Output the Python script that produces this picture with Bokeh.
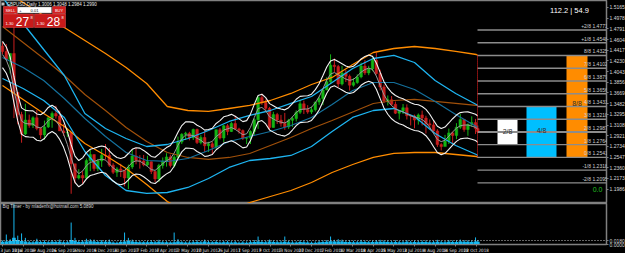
import numpy as np
from bokeh.plotting import figure
from bokeh.models import Range1d, FixedTicker, NumeralTickFormatter, Label
from bokeh.layouts import column
from bokeh.embed import file_html
from bokeh.resources import INLINE

# ---------------- data ----------------
title_text = "GBPUSD,Daily  1.3006 1.3048 1.2984 1.2990"
date_labels = ["3 Jun 2016", "13 Jul 2016", "19 Aug 2016", "26 Sep 2016", "2 Nov 2016",
               "9 Dec 2016", "20 Jan 2017", "27 Feb 2017", "4 Apr 2017", "12 May 2017",
               "20 Jun 2017", "26 Jul 2017", "1 Sep 2017", "9 Oct 2017", "13 Nov 2017",
               "20 Dec 2017", "1 Feb 2018", "12 Mar 2018", "18 Apr 2018", "25 May 2018",
               "2 Jul 2018", "8 Aug 2018", "14 Sep 2018", "22 Oct 2018"]

first_open = 1.4490
week_close = [1.4395, 1.4255, 1.4360, 1.3680, 1.3290, 1.2950, 1.3195, 1.3100, 1.3235, 1.3045,
              1.2935, 1.3075, 1.3235, 1.3310, 1.3265, 1.3005, 1.2970, 1.2975, 1.2430, 1.2180,
              1.2225, 1.2180, 1.2485, 1.2590, 1.2345, 1.2480, 1.2580, 1.2575, 1.2405, 1.2280,
              1.2340, 1.2315, 1.2180, 1.2375, 1.2565, 1.2485, 1.2480, 1.2410, 1.2465, 1.2295,
              1.2165, 1.2400, 1.2475, 1.2550, 1.2400, 1.2545, 1.2810, 1.2945, 1.2965, 1.2885,
              1.3030, 1.2800, 1.2890, 1.2745, 1.2780, 1.2720, 1.3025, 1.2880, 1.3095, 1.2995,
              1.3135, 1.3040, 1.3010, 1.2875, 1.2880, 1.2995, 1.3200, 1.3590, 1.3500, 1.3400,
              1.3065, 1.3290, 1.3195, 1.3135, 1.3075, 1.3190, 1.3220, 1.3330, 1.3480, 1.3380,
              1.3335, 1.3375, 1.3510, 1.3570, 1.3720, 1.3865, 1.4155, 1.4130, 1.3825, 1.4020,
              1.3960, 1.3805, 1.3850, 1.3950, 1.4140, 1.4020, 1.4090, 1.4240, 1.4010, 1.3775,
              1.3530, 1.3550, 1.3470, 1.3315, 1.3350, 1.3410, 1.3270, 1.3265, 1.3195, 1.3285,
              1.3230, 1.3130, 1.3110, 1.3005, 1.2765, 1.2730, 1.2830, 1.2970, 1.2925, 1.3070,
              1.3205, 1.3030, 1.3120, 1.3150, 1.3045, 1.2990]
week_high = [1.4555, 1.4525, 1.4365, 1.5018, 1.3535, 1.3340, 1.3480, 1.3290, 1.3260, 1.3370,
             1.3070, 1.3185, 1.3240, 1.3345, 1.3445, 1.3360, 1.3125, 1.3055, 1.2975, 1.2385,
             1.2335, 1.2300, 1.2520, 1.2675, 1.2590, 1.2515, 1.2690, 1.2775, 1.2705, 1.2440,
             1.2370, 1.2430, 1.2300, 1.2415, 1.2675, 1.2705, 1.2580, 1.2585, 1.2570, 1.2470,
             1.2300, 1.2430, 1.2540, 1.2615, 1.2590, 1.2580, 1.2905, 1.2965, 1.2990, 1.2990,
             1.3045, 1.3045, 1.2930, 1.3000, 1.2815, 1.2815, 1.3030, 1.3055, 1.3110, 1.3125,
             1.3160, 1.3270, 1.3060, 1.3030, 1.2900, 1.3015, 1.3225, 1.3615, 1.3655, 1.3555,
             1.3425, 1.3340, 1.3320, 1.3285, 1.3320, 1.3215, 1.3260, 1.3365, 1.3550, 1.3535,
             1.3455, 1.3430, 1.3515, 1.3610, 1.3745, 1.3945, 1.4345, 1.4275, 1.4160, 1.4145,
             1.4070, 1.3990, 1.3930, 1.3995, 1.4200, 1.4245, 1.4145, 1.4285, 1.4377, 1.4075,
             1.3815, 1.3625, 1.3615, 1.3520, 1.3375, 1.3475, 1.3470, 1.3290, 1.3290, 1.3310,
             1.3360, 1.3270, 1.3205, 1.3175, 1.3035, 1.2790, 1.2935, 1.3045, 1.2995, 1.3140,
             1.3300, 1.3215, 1.3135, 1.3260, 1.3215, 1.3100]
week_low = [1.4350, 1.4240, 1.4010, 1.3229, 1.3120, 1.2798, 1.2930, 1.3060, 1.3055, 1.3015,
            1.2865, 1.2850, 1.3055, 1.3060, 1.3220, 1.3005, 1.2915, 1.2900, 1.1905, 1.2085,
            1.2155, 1.2080, 1.2155, 1.2300, 1.2300, 1.2300, 1.2375, 1.2505, 1.2375, 1.2250,
            1.2200, 1.2200, 1.2035, 1.1986, 1.2340, 1.2420, 1.2345, 1.2385, 1.2385, 1.2250,
            1.2110, 1.2110, 1.2345, 1.2380, 1.2365, 1.2365, 1.2515, 1.2775, 1.2845, 1.2840,
            1.2845, 1.2775, 1.2770, 1.2635, 1.2635, 1.2590, 1.2690, 1.2855, 1.2810, 1.2930,
            1.2985, 1.3025, 1.2955, 1.2845, 1.2775, 1.2775, 1.2935, 1.3040, 1.3460, 1.3340,
            1.3030, 1.3065, 1.3125, 1.3080, 1.3025, 1.3040, 1.3075, 1.3170, 1.3300, 1.3300,
            1.3305, 1.3300, 1.3345, 1.3460, 1.3455, 1.3720, 1.3845, 1.4035, 1.3765, 1.3800,
            1.3860, 1.3710, 1.3780, 1.3830, 1.3925, 1.3985, 1.3980, 1.4050, 1.3990, 1.3715,
            1.3490, 1.3450, 1.3450, 1.3300, 1.3205, 1.3300, 1.3205, 1.3100, 1.3050, 1.3115,
            1.3100, 1.2960, 1.3055, 1.2955, 1.2725, 1.2662, 1.2740, 1.2775, 1.2785, 1.2860,
            1.3040, 1.2990, 1.2920, 1.3075, 1.2950, 1.2965]

# channel lines, sampled at each date label and at the last bar
orange_upper = [1.5480, 1.5252, 1.5025, 1.4815, 1.4587, 1.4360, 1.4115, 1.3835, 1.3432, 1.3362,
                1.3345, 1.3397, 1.3450, 1.3537, 1.3660, 1.3817, 1.3940, 1.4167, 1.4377, 1.4447,
                1.4482, 1.4447, 1.4395, 1.4342, 1.4325]
brown_mid = [1.4832, 1.4552, 1.4272, 1.3975, 1.3642, 1.3362, 1.3065, 1.2820, 1.2627, 1.2540,
             1.2505, 1.2540, 1.2610, 1.2750, 1.2890, 1.3047, 1.3187, 1.3336, 1.3485, 1.3537,
             1.3555, 1.3520, 1.3485, 1.3450, 1.3450]
orange_lower = [1.3800, 1.3555, 1.3310, 1.3082, 1.2785, 1.2575, 1.2347, 1.2067, 1.1770, 1.1560,
                1.1507, 1.1612, 1.1752, 1.1857, 1.1962, 1.2102, 1.2277, 1.2417, 1.2540, 1.2610,
                1.2627, 1.2627, 1.2592, 1.2557, 1.2540]
blue_upper = [1.5340, 1.4885, 1.4430, 1.3975, 1.3310, 1.3047, 1.2872, 1.2732, 1.2767, 1.2872,
              1.3012, 1.3170, 1.3275, 1.3362, 1.3485, 1.3607, 1.3852, 1.4097, 1.4272, 1.4325,
              1.4202, 1.3887, 1.3660, 1.3467, 1.3450]
blue_mid = [1.4290, 1.4115, 1.3887, 1.3572, 1.3222, 1.2907, 1.2627, 1.2487, 1.2470, 1.2522,
            1.2662, 1.2820, 1.2907, 1.2995, 1.3100, 1.3240, 1.3467, 1.3712, 1.3852, 1.3852,
            1.3730, 1.3520, 1.3292, 1.3082, 1.3065]
blue_lower = [1.3922, 1.3747, 1.3537, 1.3240, 1.2645, 1.2225, 1.1962, 1.1910, 1.1927, 1.2015,
              1.2172, 1.2365, 1.2487, 1.2522, 1.2575, 1.2732, 1.2995, 1.3240, 1.3362, 1.3397,
              1.3257, 1.2960, 1.2750, 1.2592, 1.2575]
tma_half_width = 0.023

murrey_names = ["+2/8", "+1/8", "8/8", "7/8", "6/8", "5/8", "4/8", "3/8", "2/8", "1/8", "0/8", "-1/8", "-2/8"]
murrey_levels = [1.4771, 1.4548, 1.4325, 1.4102, 1.3879, 1.3656, 1.3433, 1.3210, 1.2987, 1.2764,
                 1.2541, 1.2318, 1.2095]
box_names = ["2/8", "4/8", "8/8"]

price_ticks = [1.5165, 1.4978, 1.4791, 1.4604, 1.4417, 1.4230, 1.4043, 1.3856, 1.3669, 1.3482,
               1.3295, 1.3108, 1.2921, 1.2734, 1.2547, 1.2360, 1.2173, 1.1986]

timer_title = "Big Timer - by mladenfx@hotmail.com 5.0890"
timer_fill = [.012, .013, .016, .030, .020, .016, .014, .010, .010, .013,
              .011, .011, .010, .012, .011, .012, .010, .010, .020, .016,
              .011, .012, .014, .015, .013, .011, .012, .012, .012, .009,
              .008, .011, .014, .016, .013, .011, .010, .010, .010, .011,
              .010, .012, .010, .010, .009, .010, .014, .010, .009, .009,
              .010, .011, .010, .013, .010, .010, .011, .009, .010, .010,
              .009, .010, .008, .009, .008, .010, .011, .014, .011, .010,
              .013, .011, .010, .010, .012, .010, .009, .009, .011, .010,
              .009, .008, .008, .010, .011, .012, .015, .013, .014, .013,
              .011, .011, .010, .010, .012, .011, .010, .011, .012, .012,
              .012, .011, .010, .011, .010, .010, .012, .010, .011, .010,
              .011, .011, .010, .010, .012, .010, .010, .012, .011, .011,
              .013, .012, .012, .011, .013, .012]
timer_peak = [.018, .045, .024, .185, .040, .050, .030, .017, .016, .026,
              .016, .019, .015, .020, .017, .022, .015, .016, .099, .030,
              .017, .019, .026, .024, .022, .017, .020, .019, .022, .014,
              .013, .018, .054, .030, .022, .018, .016, .015, .016, .019,
              .016, .021, .016, .015, .014, .054, .024, .015, .014, .015,
              .018, .020, .016, .022, .016, .015, .019, .014, .016, .017,
              .015, .016, .013, .015, .014, .017, .020, .036, .018, .016,
              .022, .018, .016, .017, .036, .016, .015, .014, .019, .017,
              .015, .013, .014, .017, .018, .020, .036, .021, .024, .022,
              .018, .019, .017, .016, .021, .018, .016, .018, .020, .021,
              .019, .018, .016, .019, .016, .017, .020, .016, .018, .017,
              .018, .019, .016, .016, .021, .017, .016, .020, .018, .019,
              .022, .020, .019, .018, .032, .020]
timer_level = 0.018
timer_ticks = [0.0, 0.018]
stat_text = "112.2 | 54.9"
counter_text = "0.0"
bid_text = ("1.30", "27", "8")
ask_text = ("1.30", "28", "8")
lot_text = "0.01"

# ---------------- geometry ----------------
FW = 606
H1 = 203
PXB = 20.6 / 27.0            # pixels per daily bar
X0 = -2.0 / PXB
X1 = X0 + FW / PXB
Y_TOP = 1.5287
PPP = 0.00175                 # price per pixel
Y_BOT = Y_TOP - PPP * H1
FONT = "Liberation Sans"
NARROW = "Liberation Sans Narrow, DejaVu Sans Condensed, Liberation Sans"


def bx(px):
    return X0 + px / PXB


def py(pyv):
    return Y_TOP - PPP * pyv


n = len(week_close)
cx = [5 * i for i in range(n - 1)] + [623]
opens = [first_open] + week_close[:-1]
band_x = [27 * k for k in range(len(date_labels))] + [623]

p = figure(frame_width=FW, frame_height=H1, x_range=Range1d(X0, X1), y_range=Range1d(Y_BOT, Y_TOP),
           output_backend="svg", toolbar_location=None, x_axis_location=None,
           y_axis_location="right", background_fill_color="black", border_fill_color="black",
           min_border=0)
p.grid.visible = False
p.outline_line_color = "#808080"
p.outline_line_width = 1.5
yax = p.yaxis[0]
yax.ticker = FixedTicker(ticks=price_ticks)
yax.formatter = NumeralTickFormatter(format="0.0000")
yax.major_label_text_font_size = "5px"
yax.major_label_text_font = FONT
yax.major_label_text_color = "#d8d8d8"
yax.axis_line_color = "#808080"
yax.major_tick_line_color = "#808080"
yax.major_tick_out = 2
yax.major_tick_in = 0
yax.minor_tick_out = 0
yax.minor_tick_in = 0
yax.major_label_standoff = 1

# Murrey boxes (behind lines)
white_l, white_r = bx(497), bx(517)
blue_l, blue_r = bx(526), bx(556)
org_l, org_r = bx(566), bx(587)
p.quad(left=[white_l], right=[white_r], top=[murrey_levels[7]], bottom=[murrey_levels[9]],
       fill_color="#ffffff", line_color=None)
p.quad(left=[blue_l], right=[blue_r], top=[murrey_levels[6]], bottom=[murrey_levels[10]],
       fill_color="#00bfff", line_color=None)
p.quad(left=[org_l], right=[org_r], top=[murrey_levels[2]], bottom=[murrey_levels[10]],
       fill_color="#ff8c00", line_color=None)

# candles
green, red = "#14b414", "#c81e1e"
cols = [green if c >= o else red for o, c in zip(opens, week_close)]
p.segment(x0=cx, y0=week_high, x1=cx, y1=week_low, line_color=cols, line_width=1)
p.vbar(x=cx, width=3.4, top=[max(o, c) for o, c in zip(opens, week_close)],
       bottom=[min(o, c) for o, c in zip(opens, week_close)], fill_color=cols, line_color=cols,
       line_width=0.5)

# channels
p.line(band_x, orange_lower, line_color="#ff8c00", line_width=1.3)
p.line(band_x, brown_mid, line_color="#a0500a", line_width=1.2)
p.line(band_x, orange_upper, line_color="#ff8c00", line_width=1.3)
p.line(band_x, blue_lower, line_color="#1eb4f0", line_width=1.3)
p.line(band_x, blue_mid, line_color="#14709c", line_width=1.2)
p.line(band_x, blue_upper, line_color="#1eb4f0", line_width=1.3)

# centred triangular average of closes with envelope
wts = [1, 2, 3, 2, 1]
mid = []
for i in range(n):
    s = 0.0
    ws = 0.0
    for j, wt in zip(range(-2, 3), wts):
        if 0 <= i + j < n:
            s += week_close[i + j] * wt
            ws += wt
    mid.append(s / ws)
mid = np.array(mid)
p.line(cx, mid, line_color="#9a9a9a", line_width=1)
p.line(cx, mid + tma_half_width, line_color="#f2f2f2", line_width=1.1)
p.line(cx, mid - tma_half_width, line_color="#f2f2f2", line_width=1.1)

# Murrey lines
ml = bx(477)
for i, lv in enumerate(murrey_levels):
    p.segment(x0=[ml], y0=[lv], x1=[X1], y1=[lv], line_color="#8c8c8c",
              line_width=2 if murrey_names[i] == "2/8" else 1.4)
    p.add_layout(Label(x=bx(610), y=lv + PPP * 1.0, text=f"{murrey_names[i]}   {lv:.4f}",
                       text_font_size="5px", text_font=FONT, text_color="#d0d0d0",
                       text_align="right", text_baseline="bottom"))
p.segment(x0=[ml], y0=[murrey_levels[2]], x1=[ml], y1=[murrey_levels[10]], line_color="#ff2020",
          line_width=1, line_dash="1 1")

# box labels
p.add_layout(Label(x=(white_l + white_r) / 2, y=py(131), text=box_names[0], text_font_size="7px",
                   text_font=FONT, text_color="#303030", text_align="center", text_baseline="middle"))
p.add_layout(Label(x=(blue_l + blue_r) / 2, y=py(130), text=box_names[1], text_font_size="7px",
                   text_font=FONT, text_color="#303030", text_align="center", text_baseline="middle"))
p.add_layout(Label(x=(org_l + org_r) / 2, y=py(103), text=box_names[2], text_font_size="7px",
                   text_font=FONT, text_color="#303030", text_align="center", text_baseline="middle"))

# texts
p.add_layout(Label(x=bx(569), y=py(9.5), text=stat_text, text_font_size="7.5px", text_font=FONT,
                   text_color="#ffffff", text_align="center", text_baseline="middle"))
p.add_layout(Label(x=bx(597), y=py(189), text=counter_text, text_font_size="7px", text_font=FONT,
                   text_color="#22c022", text_align="center", text_baseline="middle"))
p.quad(left=[bx(1)], right=[bx(4)], top=[py(2)], bottom=[py(5)], fill_color="#c0c0c0", line_color=None)
p.add_layout(Label(x=bx(6), y=py(3.8), text=title_text, text_font_size="4.5px", text_font=FONT,
                   text_color="#e8e8e8", text_align="left", text_baseline="middle"))

# trade panel
p.quad(left=[bx(3), bx(52)], right=[bx(17), bx(65)], top=[py(6), py(6)], bottom=[py(13), py(13)],
       fill_color="#d42020", line_color="#f06060", line_width=0.5)
p.quad(left=[bx(17)], right=[bx(51)], top=[py(6.5)], bottom=[py(12.5)], fill_color="#ffffff",
       line_color="#909090", line_width=0.5)
p.quad(left=[bx(3), bx(34)], right=[bx(33), bx(65)], top=[py(13.5), py(13.5)],
       bottom=[py(27), py(27)], fill_color="#c81a1a", line_color="#e85050", line_width=0.5)
for txt, xp in (("SELL", 10), ("BUY", 58.5)):
    p.add_layout(Label(x=bx(xp), y=py(9.5), text=txt, text_font_size="4px", text_font=FONT,
                       text_color="#ffffff", text_align="center", text_baseline="middle"))
p.add_layout(Label(x=bx(34), y=py(9.5), text=lot_text, text_font_size="4px", text_font=FONT,
                   text_color="#000000", text_align="center", text_baseline="middle"))
p.add_layout(Label(x=bx(20), y=py(9.5), text="+", text_font_size="4px", text_font=FONT,
                   text_color="#000000", text_align="center", text_baseline="middle"))
for (small, big, sup), x0 in ((bid_text, 3), (ask_text, 34)):
    p.add_layout(Label(x=bx(x0 + 6), y=py(23), text=small, text_font_size="4px", text_font=FONT,
                       text_color="#ffffff", text_align="center", text_baseline="middle"))
    p.add_layout(Label(x=bx(x0 + 19), y=py(21), text=big, text_font_size="12px", text_font=FONT,
                       text_color="#ffffff", text_align="center", text_baseline="middle"))
    p.add_layout(Label(x=bx(x0 + 28), y=py(16.5), text=sup, text_font_size="4px", text_font=FONT,
                       text_color="#ffffff", text_align="center", text_baseline="middle"))

# current price tag on the axis
p.add_layout(Label(x=X1 + 1.0 / PXB, y=week_close[-1], text=f"{week_close[-1]:.4f}",
                   text_font_size="5px", text_font=FONT, text_color="#000000",
                   background_fill_color="#ffffff", text_align="left", text_baseline="middle"))

# ---------------- lower pane ----------------
p2 = figure(frame_width=FW, frame_height=41, x_range=p.x_range, y_range=Range1d(0, 0.185),
            output_backend="svg", toolbar_location=None, y_axis_location="right",
            background_fill_color="black", border_fill_color="black", min_border=0)
p2.grid.visible = False
p2.outline_line_color = "#808080"
p2.outline_line_width = 1.5
p2.quad(left=[x - 2.4 for x in cx], right=[x + 2.4 for x in cx], top=timer_fill,
        bottom=[0] * n, fill_color="#18b8f0", line_color=None)
p2.segment(x0=cx, y0=[0] * n, x1=cx, y1=timer_peak, line_color="#18b8f0", line_width=1)
p2.segment(x0=[X0], y0=[timer_level], x1=[X1], y1=[timer_level], line_color="#c8c8c8",
           line_width=1, line_dash="1 2")
p2.add_layout(Label(x=bx(2), y=0.185 - 0.0045 * 3, text=timer_title, text_font_size="4.5px",
                    text_font=FONT, text_color="#d8d8d8", text_align="left", text_baseline="middle"))

xa = p2.xaxis[0]
xa.ticker = FixedTicker(ticks=band_x[:-1])
xa.major_label_overrides = {t: s for t, s in zip(band_x[:-1], date_labels)}
xa.major_label_text_font_size = "4.5px"
xa.major_label_text_font = NARROW
xa.major_label_text_color = "#e0e0e0"
xa.major_label_text_align = "left"
xa.major_label_standoff = 1
xa.major_tick_out = 2
xa.major_tick_in = 0
xa.minor_tick_out = 0
xa.minor_tick_in = 0
xa.axis_line_color = "#808080"
xa.major_tick_line_color = "#808080"

ya = p2.yaxis[0]
ya.ticker = FixedTicker(ticks=timer_ticks)
ya.formatter = NumeralTickFormatter(format="0.0000")
ya.major_label_text_font_size = "5px"
ya.major_label_text_font = FONT
ya.major_label_text_color = "#d8d8d8"
ya.axis_line_color = "#808080"
ya.major_tick_line_color = "#808080"
ya.major_tick_out = 2
ya.major_tick_in = 0
ya.minor_tick_out = 0
ya.minor_tick_in = 0
ya.major_label_standoff = 1

layout = column(p, p2, spacing=0, styles={"background-color": "black"})
open("out.html", "w").write(file_html(layout, INLINE))
